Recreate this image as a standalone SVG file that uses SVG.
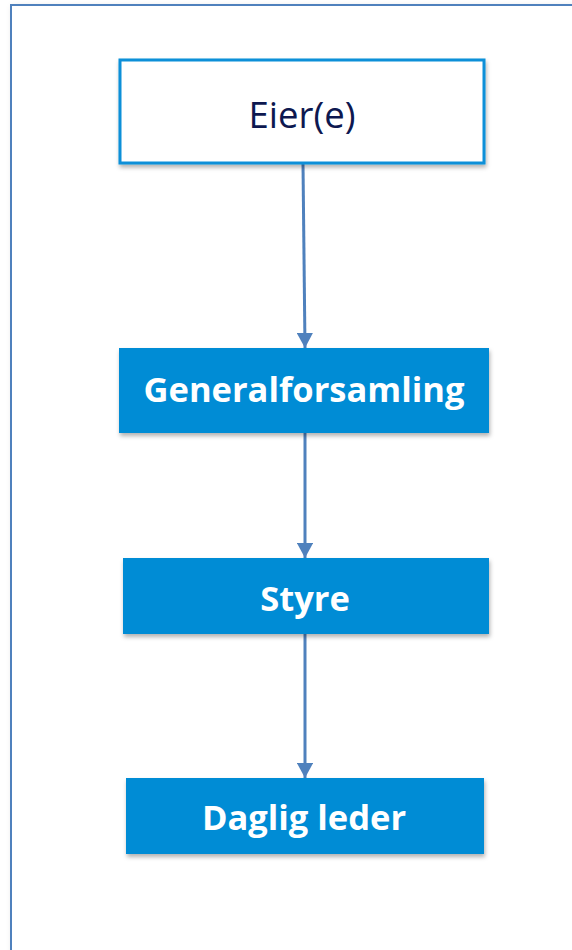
<svg xmlns="http://www.w3.org/2000/svg" width="572" height="950" viewBox="0 0 572 950">
<style>
.box{fill:#008cd5;}
.lbl{font-family:"Open Sans","Liberation Sans",sans-serif;font-weight:bold;font-size:34.5px;fill:#ffffff;text-anchor:middle;}
.conn{stroke:#4f81bd;stroke-width:3;fill:none;}
</style>
<defs>
<filter id="sh" x="-10%" y="-20%" width="120%" height="150%">
<feDropShadow dx="1" dy="3" stdDeviation="2" flood-color="#000" flood-opacity="0.3"/>
</filter>
<filter id="fsh" x="-5%" y="-5%" width="110%" height="110%">
<feDropShadow dx="2" dy="2" stdDeviation="3" flood-color="#000" flood-opacity="0.12"/>
</filter>
<marker id="ah" markerWidth="5" markerHeight="5.4" refX="5" refY="2.7" orient="auto" markerUnits="strokeWidth">
<path d="M0,0 L5,2.7 L0,5.4 Z" fill="#4f81bd"/>
</marker>
</defs>
<rect width="572" height="950" fill="#ffffff"/>
<rect x="11" y="5" width="620" height="1000" fill="#ffffff" stroke="#4f81bd" stroke-width="2" filter="url(#fsh)"/>
<g id="connectors">
<line class="conn" x1="303" y1="164" x2="305" y2="348" marker-end="url(#ah)"/>
<line class="conn" x1="305" y1="433" x2="305" y2="558" marker-end="url(#ah)"/>
<line class="conn" x1="305" y1="634" x2="305" y2="778" marker-end="url(#ah)"/>
</g>
<g id="eier">
<rect x="120" y="60" width="364" height="103" fill="#ffffff" stroke="#0a8fd8" stroke-width="3" filter="url(#sh)"/>
<text x="302" y="128" font-family="Open Sans,Liberation Sans,sans-serif" font-size="36.5" fill="#0d1850" text-anchor="middle">Eier(e)</text>
</g>
<g id="generalforsamling">
<rect class="box" x="119" y="348" width="370" height="85" filter="url(#sh)"/>
<text class="lbl" x="304" y="402">Generalforsamling</text>
</g>
<g id="styre">
<rect class="box" x="123" y="558" width="366" height="76" filter="url(#sh)"/>
<text class="lbl" x="305" y="611">Styre</text>
</g>
<g id="daglig-leder">
<rect class="box" x="126" y="778" width="358" height="76" filter="url(#sh)"/>
<text class="lbl" x="304" y="830">Daglig leder</text>
</g>
</svg>
